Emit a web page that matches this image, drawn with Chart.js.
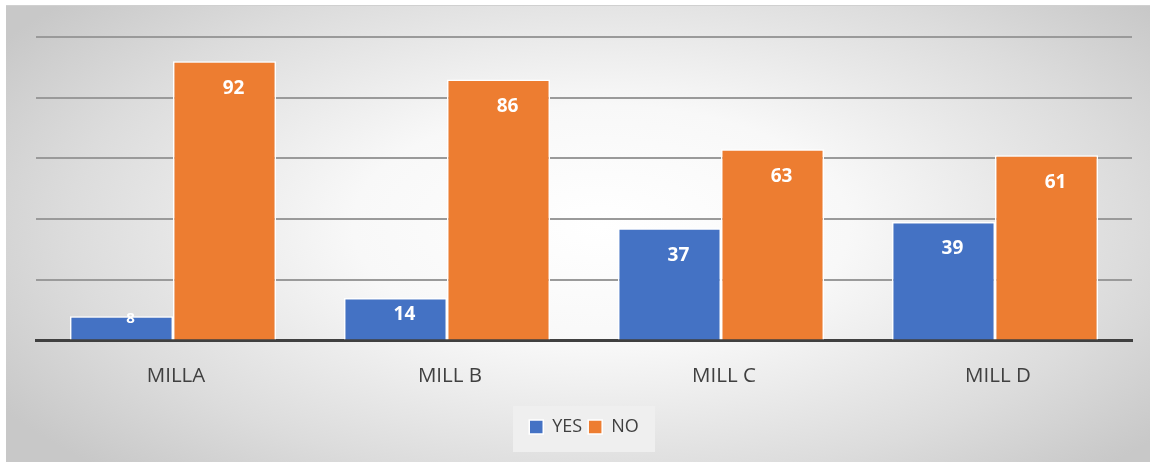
<!DOCTYPE html>
<html>
<head>
<meta charset="utf-8">
<script src="https://cdn.jsdelivr.net/npm/chart.js@4"></script>
<style>
  html, body { margin: 0; padding: 0; background: #fff; }
  #frame {
    position: absolute; left: 6px; top: 5px; width: 1144px; height: 457px;
    border-top: 1px solid #d0d0d0;
    background: radial-gradient(ellipse 62% 75% at 52% 48%, #ffffff 0%, #f8f8f8 35%, #dcdcdc 75%, #c8c8c8 100%);
  }
  #wrap { position: absolute; left: 0; top: 0; width: 1150px; height: 462px; }
</style>
</head>
<body>
<div id="frame"></div>
<div id="wrap"><canvas id="chart" width="1150" height="462"></canvas></div>
<script>
// values
const mills = ['MILLA', 'MILL B', 'MILL C', 'MILL D'];
const yes = [8, 14, 37, 39];
const no = [92, 86, 63, 61];
const seriesNames = ['YES', 'NO'];

const blue = '#4472C4';
const orange = '#ED7D31';
const ink = '#404040';
const font = '"Open Sans", "Noto Sans", sans-serif';

// white value labels near the inside end of each bar (Excel-like)
const barLabels = {
  id: 'barLabels',
  afterDatasetsDraw(chart) {
    const ctx = chart.ctx;
    ctx.save();
    ctx.fillStyle = '#fff';
    ctx.textAlign = 'center';
    ctx.textBaseline = 'middle';
    chart.data.datasets.forEach((ds, i) => {
      chart.getDatasetMeta(i).data.forEach((bar, j) => {
        const h = bar.base - bar.y;
        let off = Math.min(27, h * 0.4);
        let size = 19;
        if (h < 30) { off = 3; size = 15; }
        ctx.font = 'bold ' + size + 'px ' + font;
        ctx.fillText(ds.data[j], bar.x + 9, bar.y + off);
      });
    });
    ctx.restore();
  }
};

// light box behind the legend
const legendBox = {
  id: 'legendBox',
  beforeDraw(chart) {
    const lg = chart.legend;
    if (!lg) return;
    const ctx = chart.ctx;
    const w = 142, h = 46;
    const cx = 584;
    const cy = lg.top + lg.height / 2;
    ctx.save();
    ctx.fillStyle = '#efefef';
    ctx.fillRect(cx - w / 2, cy - h / 2, w, h);
    ctx.restore();
  }
};

new Chart(document.getElementById('chart'), {
  type: 'bar',
  data: {
    labels: mills,
    datasets: [
      { label: seriesNames[0], data: yes, backgroundColor: blue },
      { label: seriesNames[1], data: no, backgroundColor: orange }
    ]
  },
  options: {
    responsive: false,
    animation: false,
    layout: { padding: { left: 36, right: 18, top: 37, bottom: 16 } },
    datasets: {
      bar: {
        categoryPercentage: 0.752,
        barPercentage: 1.0,
        borderColor: '#ffffff',
        borderWidth: 1.5,
        borderSkipped: 'bottom'
      }
    },
    scales: {
      x: {
        grid: { display: false },
        border: { display: true, color: ink, width: 3 },
        ticks: { color: ink, font: { family: font, size: 20.5 }, padding: 15, labelOffset: 3 },
        afterFit(scale) { scale.height += 9; }
      },
      y: {
        min: 0, max: 100,
        ticks: { display: false, stepSize: 20 },
        border: { display: false },
        grid: { color: '#9a9a9a', lineWidth: 2, drawTicks: false }
      }
    },
    plugins: {
      legend: {
        position: 'bottom',
        labels: {
          color: ink,
          font: { family: font, size: 18 },
          boxWidth: 14, boxHeight: 14,
          padding: 6,
          generateLabels(chart) {
            return chart.data.datasets.map((ds, i) => ({
              text: ds.label,
              fillStyle: ds.backgroundColor,
              strokeStyle: '#ffffff',
              lineWidth: 1.5,
              fontColor: ink,
              datasetIndex: i
            }));
          }
        }
      },
      tooltip: { enabled: false }
    }
  },
  plugins: [barLabels, legendBox]
});
</script>
</body>
</html>
